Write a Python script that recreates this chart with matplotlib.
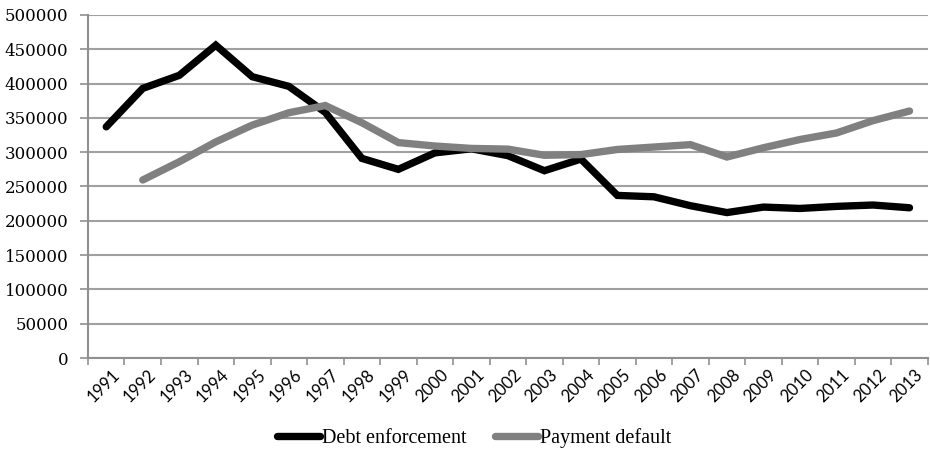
import matplotlib.pyplot as plt
from matplotlib.transforms import ScaledTranslation
import numpy as np

years = [str(y) for y in range(1991, 2014)]
debt_enforcement = [337000, 393000, 412000, 456000, 410000, 396000, 358000,
                    291000, 275000, 299000, 305000, 295000, 273000, 290000,
                    237000, 235000, 222000, 212000, 220000, 218000, 221000,
                    223000, 219000]
payment_default = [np.nan, 259500, 286000, 315000, 339500, 357500, 368000,
                    343000, 314000, 309000, 305500, 304500, 295500, 296500,
                    304000, 307500, 311000, 293000, 306500, 318500, 328000,
                    346000, 360000]

x = np.arange(len(years)) + 0.5

fig = plt.figure(figsize=(9.3, 4.61), dpi=100)
ax = fig.add_axes([0.0946, 0.2234, 0.903, 0.7441])

ax.plot(x, debt_enforcement, color='black', lw=5.3, solid_capstyle='round',
        solid_joinstyle='miter', label='Debt enforcement', zorder=3)
ax.plot(x, payment_default, color='#808080', lw=5.3, solid_capstyle='round',
        solid_joinstyle='miter', label='Payment default', zorder=3)

ax.set_ylim(0, 500000)
ax.set_yticks(np.arange(0, 500001, 50000))
ax.set_xlim(0, len(years))

# category boundaries get tick marks, labels sit in the middle
ax.set_xticks(np.arange(0, len(years) + 1))
ax.set_xticklabels([])
ax.set_xticks(x, minor=True)
ax.set_xticklabels(years, minor=True, rotation=45, ha='right',
                   rotation_mode='anchor', fontsize=12, family='Lato')
ax.tick_params(axis='x', which='minor', length=0, pad=6)
ax.tick_params(axis='x', which='major', length=5, color='#909090', width=1.2)
ax.tick_params(axis='y', length=6, color='#909090', width=1.2, pad=8)
for lbl in ax.get_xticklabels(minor=True):
    lbl.set_transform(lbl.get_transform() +
                      ScaledTranslation(0.05, 0, fig.dpi_scale_trans))

for lbl in ax.get_yticklabels():
    lbl.set_family('DejaVu Serif')
    lbl.set_fontsize(12)
    lbl.set_color('black')

ax.grid(axis='y', color='#a0a0a0', lw=1.5, zorder=0)
for s in ['top', 'right']:
    ax.spines[s].set_visible(False)
for s in ['left', 'bottom']:
    ax.spines[s].set_color('#909090')
    ax.spines[s].set_linewidth(1.5)

fig.legend(loc='center', bbox_to_anchor=(0.51, 0.05), ncol=2,
           frameon=False, handlelength=2.15, handletextpad=0.1,
           columnspacing=1.4,
           prop={'family': 'Liberation Serif', 'size': 14.5})

fig.savefig('out.png', dpi=100)
